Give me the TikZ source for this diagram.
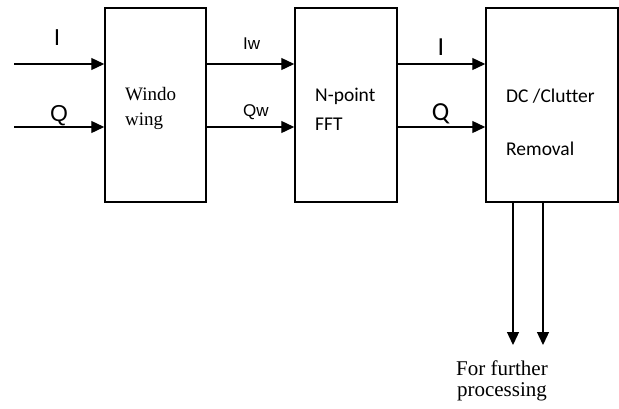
\documentclass[tikz,border=0pt]{standalone}
\usepackage{fontspec}
\setmainfont{Liberation Serif}
\newfontfamily\arialf{Liberation Sans}
\newfontfamily\calf[Ligatures=NoCommon]{Carlito}
\usetikzlibrary{arrows.meta}
\tikzset{
  blk/.style={draw, line width=1.5pt, rectangle, inner sep=0pt, minimum height=194pt},
  arr/.style={line width=1.3pt, -{Triangle[length=13pt,width=12pt]}},
  lbl/.style={inner sep=0pt, anchor=base},
  txt/.style={inner sep=0pt, anchor=base west},
}
\begin{document}
\begin{tikzpicture}[x=1pt,y=-1pt]
\useasboundingbox (0,0) rectangle (619,408);
\node[blk, minimum width=101pt] (b1) at (155.5,105) {};
\node[blk, minimum width=102pt] (b2) at (346,105) {};
\node[blk, minimum width=132pt] (b3) at (552,105) {};
\coordinate (yI) at (0,64);
\coordinate (yQ) at (0,127);
\coordinate (inI) at (14,64);
\coordinate (inQ) at (14,127);
\coordinate (o1) at (513,345);
\coordinate (o2) at (543,345);
% box texts
\node[txt, font=\fontsize{19}{21}\selectfont] (t1a) at (125,100) {Windo};
\node[txt, font=\fontsize{19}{21}\selectfont] (t1b) at (125,125.6) {wing};
\node[txt, font=\calf\fontsize{19.5}{22}\selectfont] (t2a) at (315,101) {N-point};
\node[txt, font=\calf\fontsize{19.5}{22}\selectfont] (t2b) at (315,130) {FFT};
\node[txt, font=\calf\fontsize{19.5}{22}\selectfont] (t3a) at (506,102) {DC /Clutter};
\node[txt, font=\calf\fontsize{19.5}{22}\selectfont] (t3b) at (506,155) {Removal};
% labels
\node[lbl, font=\arialf\fontsize{23}{26}\selectfont] (lI) at (57,45) {I};
\node[lbl, font=\arialf\fontsize{23}{26}\selectfont] (lQ) at (59,121.5) {Q};
\node[txt, font=\arialf\fontsize{17}{19}\selectfont] (lIw) at (243,49) {Iw};
\node[txt, font=\arialf\fontsize{17}{19}\selectfont] (lQw) at (243,116) {Qw};
\node[lbl, font=\calf\fontsize{26}{28}\selectfont] (rI) at (441,55) {I};
\node[lbl, font=\calf\fontsize{26}{28}\selectfont] (rQ) at (440.5,120) {Q};
\node[lbl, font=\fontsize{21}{23}\selectfont] (f1) at (502,375) {For further};
\node[lbl, font=\fontsize{21}{23}\selectfont] (f2) at (502,396) {processing};
% connectors
\draw[arr] (inI) -- (b1.west |- yI);
\draw[arr] (inQ) -- (b1.west |- yQ);
\draw[arr] (b1.east |- yI) -- (b2.west |- yI);
\draw[arr] (b1.east |- yQ) -- (b2.west |- yQ);
\draw[arr] (b2.east |- yI) -- (b3.west |- yI);
\draw[arr] (b2.east |- yQ) -- (b3.west |- yQ);
\draw[arr] (b3.south -| o1) -- (o1);
\draw[arr] (b3.south -| o2) -- (o2);
\end{tikzpicture}
\end{document}
